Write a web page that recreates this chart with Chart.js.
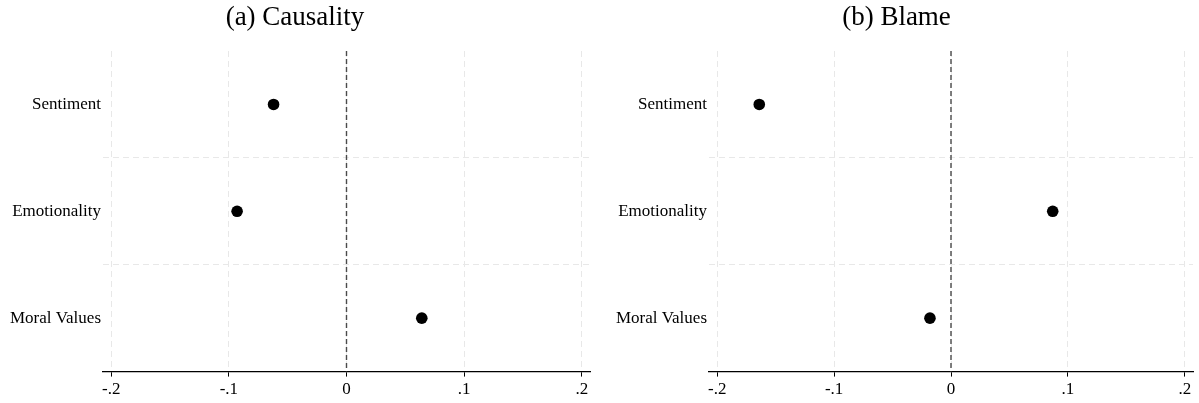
<!DOCTYPE html>
<html>
<head>
<meta charset="utf-8">
<script src="https://cdn.jsdelivr.net/npm/chart.js@4.4.1/dist/chart.umd.min.js"></script>
<style>
  html, body { margin:0; padding:0; background:#fff; }
  #wrap { position:relative; width:1199px; height:403px; }
  .panel { position:absolute; top:0; height:403px; }
</style>
</head>
<body>
<div id="wrap">
  <div class="panel" style="left:0;width:600px;"><canvas id="chart-causality"></canvas></div>
  <div class="panel" style="left:600px;width:599px;"><canvas id="chart-blame"></canvas></div>
</div>
<script>
// ── data ────────────────────────────────────────────────────────────────────
const categories   = ['Sentiment', 'Emotionality', 'Moral Values'];
const causalityEst = [-0.062, -0.093, 0.064];
const blameEst     = [-0.164, 0.087, -0.018];
const xTicks       = [-0.2, -0.1, 0, 0.1, 0.2];
const xTickLabels  = ['-.2', '-.1', '0', '.1', '.2'];
const titles       = ['(a) Causality', '(b) Blame'];

const SERIF = '"Liberation Serif", "Times New Roman", serif';

// dashed reference line at x = 0
const zeroLine = {
  id: 'zeroLine',
  beforeDatasetsDraw(chart) {
    const { ctx, chartArea, scales } = chart;
    const x = scales.x.getPixelForValue(0);
    ctx.save();
    ctx.strokeStyle = '#4a4a4a';
    ctx.lineWidth = 1.4;
    ctx.setLineDash([5, 3]);
    ctx.beginPath();
    ctx.moveTo(x, chartArea.top);
    ctx.lineTo(x, chartArea.bottom);
    ctx.stroke();
    ctx.restore();
  },
};

function makeChart(id, title, values, yWidth, padRight) {
  return new Chart(document.getElementById(id), {
    type: 'scatter',
    data: {
      datasets: [{
        data: categories.map((c, i) => ({ x: values[i], y: c })),
        backgroundColor: '#000', borderColor: '#000', borderWidth: 0,
        pointRadius: 5.8, pointHoverRadius: 5.8,
      }],
    },
    options: {
      responsive: true, maintainAspectRatio: false, animation: false,
      layout: { padding: { top: 0, right: padRight, bottom: 0, left: 0 } },
      plugins: {
        legend: { display: false },
        tooltip: { enabled: false },
        title: {
          display: true, text: title, color: '#000',
          font: { family: SERIF, size: 27, weight: 'normal', lineHeight: 1.2 },
          padding: { top: 2, bottom: 16.6 },
        },
      },
      scales: {
        x: {
          type: 'linear', min: -0.207, max: 0.207,
          afterBuildTicks: s => { s.ticks = xTicks.map(v => ({ value: v })); },
          ticks: { color: '#000', padding: 3, font: { family: SERIF, size: 17 },
                   callback: (v, i) => xTickLabels[i] },
          grid: { color: '#e8e8e8', lineWidth: 1, tickColor: '#000', tickLength: 5 },
          border: { display: true, color: '#000', width: 1.3, dash: [6, 4] },
        },
        y: {
          type: 'category', labels: categories, offset: true,
          afterFit: s => { s.width = yWidth; },
          ticks: { color: '#000', padding: 2, font: { family: SERIF, size: 17 } },
          grid: {
            offset: true, drawTicks: false, lineWidth: 1,
            color: ctx => (ctx.index === 1 || ctx.index === 2) ? '#e8e8e8' : 'rgba(0,0,0,0)',
          },
          border: { display: false, dash: [6, 4] },
        },
      },
    },
    plugins: [zeroLine],
  });
}

makeChart('chart-causality', titles[0], causalityEst, 103, 10);
makeChart('chart-blame',     titles[1], blameEst,     109, 6);
</script>
</body>
</html>
